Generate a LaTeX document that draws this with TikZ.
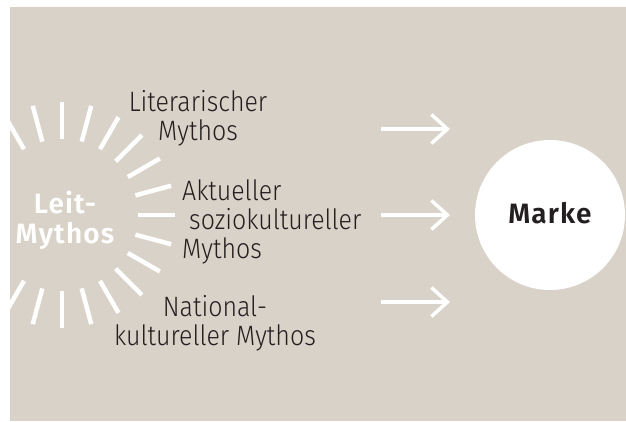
\documentclass[tikz,border=0pt]{standalone}
\usepackage{fontspec}
\setmainfont{Fira Sans Light}[FakeStretch=0.89]
\newfontfamily\markefont{Fira Sans SemiBold}[LetterSpace=4]
\usetikzlibrary{arrows.meta}
\definecolor{bgbeige}{RGB}{217,210,200}
\definecolor{textgray}{RGB}{35,31,32}

\begin{document}
\begin{tikzpicture}[x=1pt,y=-1pt,
    label/.style={text=textgray,font=\fontsize{28}{29}\selectfont,inner sep=0pt},
    keyword/.style={font=\markefont\fontsize{28}{30}\selectfont,inner sep=0pt},
    ray/.style={white,line width=4.5pt},
    flow/.style={white,line width=3.5pt,-{Straight Barb[length=16pt,width=29pt]}}]
    \useasboundingbox (0,0) rectangle (626,421);
    \fill[bgbeige] (10,7) rectangle (626,421);
    % sun round the Leit-Mythos
    \coordinate (sun) at (62,215);
    \begin{scope}
        \clip (10,7) rectangle (626,421);
        \foreach \a in {-120,-105,...,120}
            \draw[ray] (sun) ++(\a:76) -- ++(\a:37);
    \end{scope}
    \node[keyword,text=white,align=center] (leit) at (65,220) {Leit-\\Mythos};
    % the three myths
    \node[label,align=center] (literar) at (198,118) {Literarischer\\Mythos};
    \node[label,align=left,anchor=west] (aktuell) at (182,222) {Aktueller\\\hspace{7pt}soziokultureller\\Mythos};
    \node[label,align=center] (national) at (215,323) {National-\\kultureller Mythos};
    % brand
    \node[circle,fill=white,minimum size=150pt,keyword,text=textgray,text depth=5pt] (marke) at (550,215) {Marke};
    \coordinate (from1) at (381,129);
    \coordinate (to1) at (450,129);
    \coordinate (from2) at (381,215);
    \coordinate (to2) at (450,215);
    \coordinate (from3) at (381,302);
    \coordinate (to3) at (450,302);
    \draw[flow] (from1) -- (to1);
    \draw[flow] (from2) -- (to2);
    \draw[flow] (from3) -- (to3);
\end{tikzpicture}
\end{document}
